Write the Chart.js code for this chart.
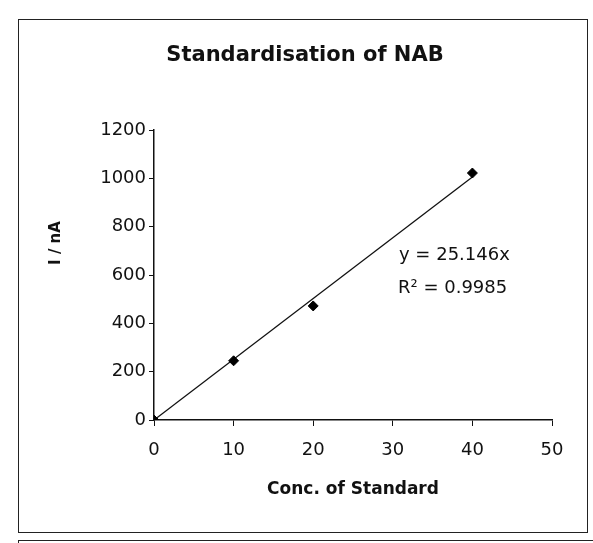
<!DOCTYPE html>
<html>
<head>
<meta charset="utf-8">
<title>Standardisation of NAB</title>
<script src="https://cdn.jsdelivr.net/npm/chart.js@4.4.1/dist/chart.umd.min.js"></script>
<style>
  html, body { margin: 0; padding: 0; background: #fff; }
  #wrap { position: relative; width: 593px; height: 543px; overflow: hidden; }
  .box { position: absolute; border: 1.5px solid #222; }
  canvas { position: absolute; left: 0; top: 0; }
</style>
</head>
<body>
<div id="wrap">
  <div class="box" style="left:18px; top:19px; width:568px; height:512px;"></div>
  <div class="box" style="left:18px; top:540px; width:590px; height:30px;"></div>
  <canvas id="nabChart" width="593" height="543"></canvas>
</div>
<script>
// data
var concentrations = [0, 10, 20, 40];
var currents = [0, 245, 472, 1022];
var xTicks = [0, 10, 20, 30, 40, 50];
var yTicks = [0, 200, 400, 600, 800, 1000, 1200];
var slope = 25.146; // trendline through origin, as printed on chart
var rSquared = '0.9985';

var chartTitle = 'Standardisation of NAB';
var xTitle = 'Conc. of Standard';
var yTitle = 'I / nA';

document.addEventListener('DOMContentLoaded', function () {
    var ctx = document.getElementById('nabChart').getContext('2d');

    var points = concentrations.map(function (c, i) {
        return { x: c, y: currents[i] };
    });
    var lastX = concentrations[concentrations.length - 1];
    var trend = [
        { x: 0, y: 0 },
        { x: lastX, y: slope * lastX }
    ];

    // title, y title and the trendline label, placed like in the scan
    var textPlugin = {
        id: 'chartText',
        afterDraw: function (chart) {
            var c = chart.ctx;
            var area = chart.chartArea;
            c.save();
            c.fillStyle = '#111';
            c.textBaseline = 'middle';

            c.font = 'bold 21px "DejaVu Sans"';
            c.textAlign = 'center';
            c.fillText(chartTitle, 305, 56);

            c.save();
            c.translate(56, 243);
            c.rotate(-Math.PI / 2);
            c.font = 'bold 15px "DejaVu Sans"';
            c.fillText(yTitle, 0, 0);
            c.restore();

            c.font = '18px "DejaVu Sans"';
            c.textAlign = 'left';
            c.fillText('y = ' + slope + 'x', area.left + 245, 255);
            c.fillText('R\u00B2 = ' + rSquared, area.left + 244, 288);
            c.restore();
        }
    };

    var tickFont = { family: 'DejaVu Sans', size: 18 };
    var plainTick = function (value) { return String(value); };

    new Chart(ctx, {
        type: 'scatter',
        data: {
            datasets: [
                {
                    label: 'Standard',
                    data: points,
                    pointStyle: 'rectRot',
                    pointRadius: 5,
                    backgroundColor: '#000',
                    borderColor: '#000',
                    borderWidth: 1,
                    order: 0
                },
                {
                    label: 'Linear fit',
                    data: trend,
                    showLine: true,
                    pointRadius: 0,
                    borderColor: '#111',
                    borderWidth: 1.3,
                    order: 1
                }
            ]
        },
        options: {
            responsive: false,
            animation: false,
            layout: {
                padding: { left: 20, right: 41, top: 130, bottom: 23 }
            },
            scales: {
                x: {
                    type: 'linear',
                    min: xTicks[0],
                    max: xTicks[xTicks.length - 1],
                    afterBuildTicks: function (scale) {
                        scale.ticks = xTicks.map(function (v) { return { value: v }; });
                    },
                    afterFit: function (scale) {
                        scale.height = 100;
                        scale.paddingLeft = 0;
                        scale.paddingRight = 0;
                    },
                    grid: {
                        drawOnChartArea: false,
                        drawTicks: true,
                        tickLength: 6,
                        color: '#111'
                    },
                    border: { display: true, color: '#111', width: 1.5 },
                    ticks: {
                        color: '#111',
                        font: tickFont,
                        padding: 14,
                        maxRotation: 0,
                        callback: plainTick
                    },
                    title: {
                        display: true,
                        text: xTitle,
                        color: '#111',
                        font: { family: 'DejaVu Sans', size: 17, weight: 'bold' },
                        padding: { top: 0, bottom: 20 }
                    }
                },
                y: {
                    type: 'linear',
                    min: yTicks[0],
                    max: yTicks[yTicks.length - 1],
                    afterBuildTicks: function (scale) {
                        scale.ticks = yTicks.map(function (v) { return { value: v }; });
                    },
                    afterFit: function (scale) {
                        scale.width = 134;
                        scale.paddingTop = 0;
                        scale.paddingBottom = 0;
                    },
                    grid: {
                        drawOnChartArea: false,
                        drawTicks: true,
                        tickLength: 5,
                        color: '#111'
                    },
                    border: { display: true, color: '#111', width: 1.5 },
                    ticks: {
                        color: '#111',
                        font: tickFont,
                        padding: 3,
                        callback: plainTick
                    }
                }
            },
            plugins: {
                legend: { display: false },
                tooltip: { enabled: false }
            }
        },
        plugins: [textPlugin]
    });
});
</script>
</body>
</html>
